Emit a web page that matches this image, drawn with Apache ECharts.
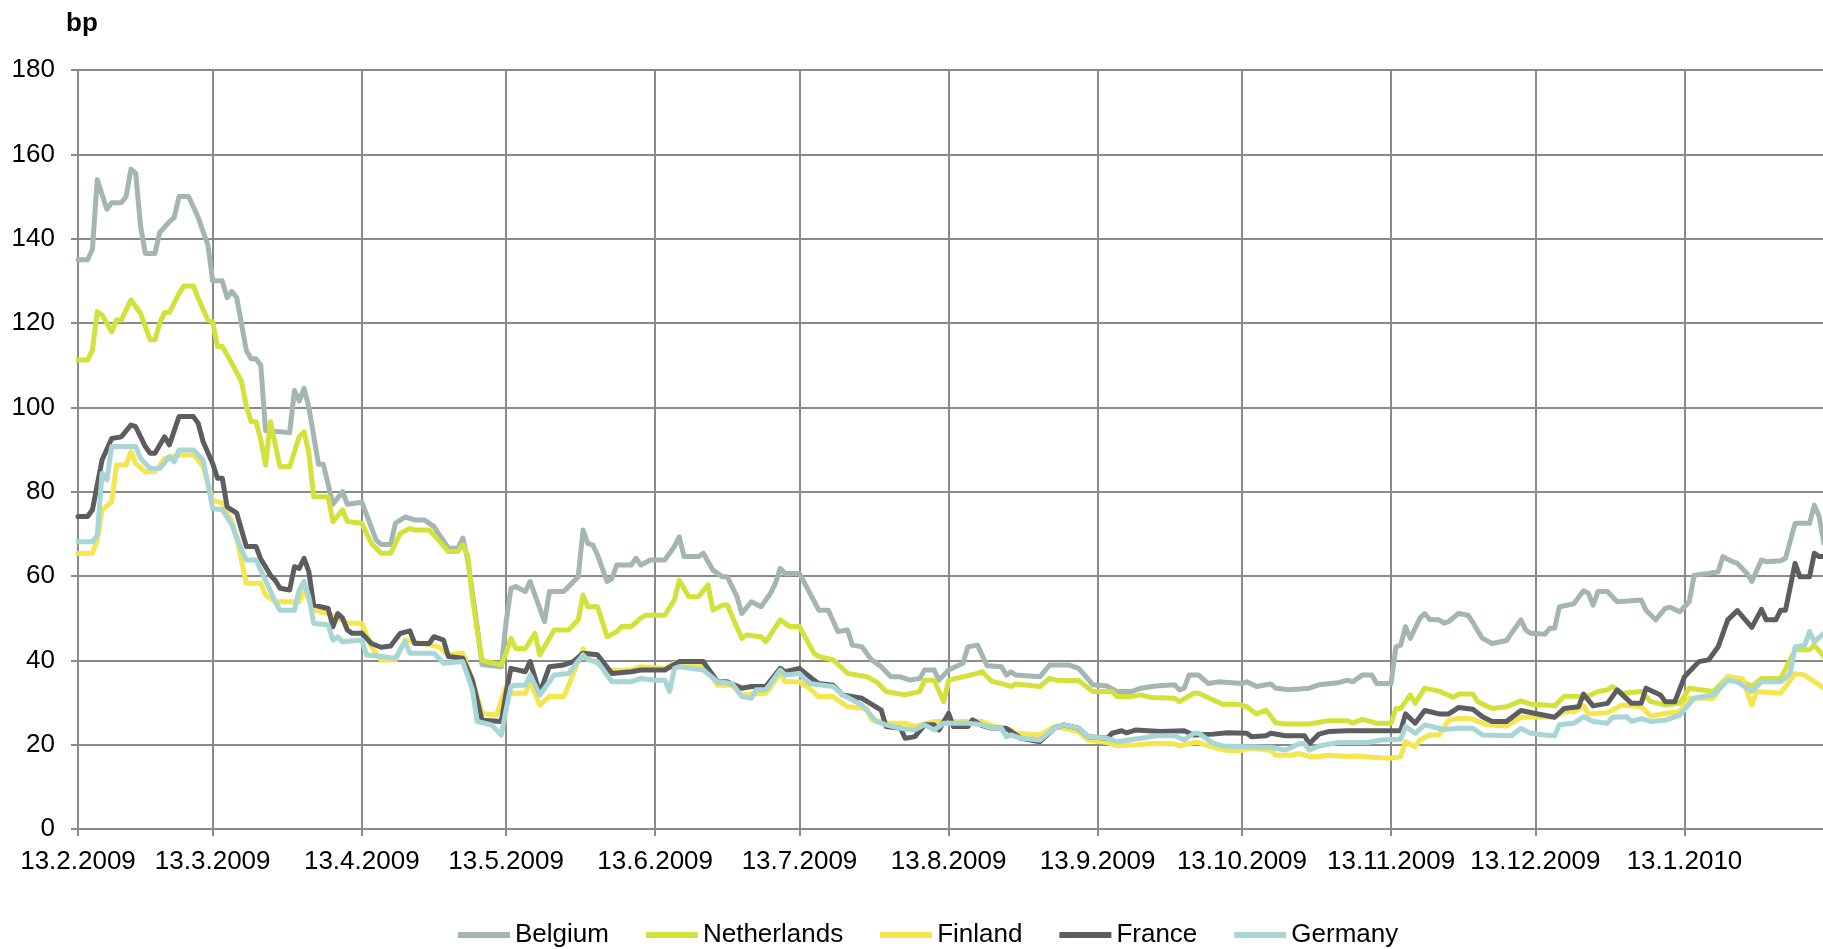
<!DOCTYPE html>
<html>
<head>
<meta charset="utf-8">
<script src="https://cdn.jsdelivr.net/npm/echarts@6/dist/echarts.min.js"></script>
<style>
html,body{margin:0;padding:0;background:#fff;}
#chart{width:1823px;height:949px;}
</style>
</head>
<body>
<div id="chart"></div>
<script>
// Day offsets are counted from 13.2.2009 (day 0); values in basis points.
const START_DATE = '2009-02-13';
const X_END_DAY = 362.8;
const xTickLabels = ['13.2.2009','13.3.2009','13.4.2009','13.5.2009','13.6.2009','13.7.2009',
  '13.8.2009','13.9.2009','13.10.2009','13.11.2009','13.12.2009','13.1.2010'];
const yMin = 0, yMax = 180, yStep = 20;
const seriesNames = ['Belgium','Netherlands','Finland','France','Germany'];
const seriesColors = ['#a3b6b1','#d3e23a','#f5e54e','#5c5d61','#a8d5d5'];

const belgium = [[0,135],[2,135],[3,137.5],[4,154],[6,147],[7,148.5],[9,148.5],[10,150],[11,156.5],[12,155.5],[13,143],[14,136.5],[16,136.5],[17,141.5],[19,144],[20,145],[21,150],[23,150],[25,145],[27,138.5],[28,130],[30,130],[31,126],[32,127.5],[33,126],[35,113.5],[36,111.5],[37,111.5],[38,110],[39,94.5],[44,94],[45,104],[46,101.5],[47,104.5],[48,100],[50,86.5],[51,86.5],[53,77],[55,80],[56,77],[59,77.5],[62,68.5],[63,67.5],[65,67.5],[66,72.5],[68,74],[70,73.3],[72,73.3],[74,71.7],[75,70],[77,66.6],[79,66.6],[80,69],[81,64],[82,56],[83,48],[84,39],[88,38.5],[89,49],[90,57],[91,57.5],[93,56.3],[94,58.7],[97,49.2],[98,56.3],[101,56.3],[104,59.8],[105,70.9],[106,67.7],[107,67.4],[108,65],[110,58.7],[111,59.4],[112,62.6],[115,62.6],[116,64.2],[117,62.6],[119,63.8],[122,63.8],[124,67],[125,69.3],[126,64.6],[129,64.6],[130,65.4],[132,61.4],[134,59.8],[135,59.8],[137,55.1],[138,51.1],[140,53.9],[142,52.7],[144,55.9],[145,58.3],[146,61.8],[147,60.6],[150,60.6],[152,56.3],[154,51.9],[156,51.9],[158,46.8],[160,47.2],[161,43.6],[163,43.2],[165,40.1],[167,38.5],[169,36.1],[171,36.1],[173,35.3],[175,35.7],[176,37.7],[178,37.7],[179,35.3],[181,37.7],[184,39.3],[185,43.2],[187,43.6],[189,38.7],[192,38.5],[193,36.5],[194,37.3],[195,36.5],[200,36.1],[202,38.9],[206,38.9],[208,38.1],[209,36.9],[211,34.2],[214,33.9],[216,32.6],[219,32.6],[221,33.4],[224,33.9],[228,34.2],[229,33],[230,33.4],[231,36.5],[233,36.5],[235,34.5],[237,34.9],[242,34.5],[243,34.9],[245,33.8],[248,34.4],[249,33.4],[252,33],[256,33.4],[258,34.2],[262,34.7],[264,35.3],[265,34.9],[267,36.5],[269,36.5],[270,34.5],[273,34.5],[274,43.2],[275,43.6],[276,48],[277,45.2],[279,50],[280,51.1],[281,49.7],[283,49.6],[284,48.8],[285,49.2],[287,51.1],[289,50.7],[290,49],[291,47],[292,45.2],[294,44],[297,44.7],[298,46.4],[300,49.6],[301,47.2],[302,46.4],[305,46.2],[306,47.6],[307,47.6],[308,52.7],[311,53.4],[313,56.5],[314,55.9],[315,53.1],[316,56.3],[318,56.3],[320,53.9],[325,54.3],[326,51.9],[328,49.6],[330,52.3],[331,52.6],[333,51.5],[335,53.9],[336,60.2],[339,60.6],[341,61],[342,64.6],[344,63.4],[345,63],[347,60.6],[348,58.7],[350,63.8],[351,63.4],[354,63.6],[355,64.2],[357,72.5],[360,72.5],[361,76.8],[362,74.1],[363,67.7]];

const netherlands = [[0,111.2],[2,111.2],[3,113.6],[4,122.7],[5,121.9],[7,117.9],[8,120.7],[9,120.7],[11,125.5],[13,122.3],[15,116],[16,116],[17,120],[18,122.5],[19,122.5],[21,127],[22,128.8],[24,128.8],[25,125.8],[27,120.7],[28,120.3],[29,114.4],[30,114.4],[32,110.4],[34,106.1],[35,100.2],[36,96.6],[37,96.6],[38,92.3],[39,86.3],[40,96.6],[42,85.9],[44,85.9],[46,93],[47,94.2],[48,89.1],[49,78.8],[52,78.8],[53,72.9],[55,75.7],[56,72.9],[59,72.5],[61,67.7],[63,65.4],[65,65.4],[67,70.1],[69,71.3],[70,70.9],[73,70.9],[74,69.7],[77,65.8],[79,65.8],[80,67.4],[81,65],[82,55],[83,47],[84,40],[88,38.9],[89,41.7],[90,45.2],[91,42.8],[93,42.8],[95,46.4],[96,41.3],[99,47.2],[102,47.2],[104,49.6],[105,55.5],[106,52.7],[108,52.7],[110,45.6],[112,46.8],[113,48],[115,48],[117,50],[118,50.7],[122,50.7],[124,54.3],[125,59],[127,55.1],[129,55.1],[131,57.9],[132,51.9],[134,53.1],[135,53.1],[138,45.2],[139,46],[142,45.6],[143,44.4],[146,49.6],[148,48],[150,48],[153,41.7],[154,40.9],[157,40.1],[160,36.9],[164,36.1],[166,34.9],[168,32.6],[170,32.2],[172,31.8],[175,32.6],[176,35.3],[178,35.3],[180,30.2],[181,35.3],[184,36.1],[187,36.9],[188,37.3],[190,35],[192,34.5],[194,33.8],[195,34.4],[200,33.8],[202,35.7],[204,35.2],[208,35.2],[211,32.6],[215,32.6],[216,31.4],[219,31.4],[221,31.8],[223,31.2],[228,31],[229,30.2],[232,32.2],[233,32.2],[236,30.6],[238,29.6],[241,29.6],[243,29],[245,27.3],[247,28.2],[249,25.2],[251,24.9],[256,24.9],[260,25.7],[264,25.7],[265,25.1],[267,26],[270,25.1],[273,25.1],[274,28.6],[275,28.6],[277,31.8],[278,29.8],[280,33.4],[283,32.7],[286,31.2],[287,32],[290,32],[291,30.2],[294,28.6],[297,29],[300,30.4],[302,29.6],[305,29.4],[307,29.2],[309,31.5],[312,31.5],[313,31],[316,32.6],[318,33],[319,33.8],[321,32.2],[325,32.6],[327,30.2],[330,29.4],[333,29.8],[335,33.4],[340,32.6],[343,36.1],[345,35.7],[348,33.8],[350,35.7],[354,35.7],[357,42.5],[360,42.5],[361,43.6],[363,40.9]];

const finland = [[0,65.4],[3,65.4],[4,68.5],[5,75.7],[7,77.6],[8,86.3],[10,86.3],[11,89.5],[12,86.7],[14,84.7],[16,84.7],[18,87.9],[21,88.7],[24,88.7],[26,85.9],[27,82],[28,78],[30,77.2],[32,72.9],[33,68.9],[35,58.3],[38,58.3],[39,55.5],[41,53.9],[46,53.9],[47,56.7],[49,51.9],[52,51.1],[56,48.8],[59,48.8],[61,43.2],[63,40.1],[66,40.1],[68,44.8],[75,43.2],[77,41.3],[80,41.7],[82,35.3],[84,27.4],[87,27],[89,33.8],[90,32.2],[93,32.2],[94,34.9],[96,29.4],[98,31.4],[101,31.4],[103,36.9],[105,42.8],[106,40.5],[108,39.3],[110,37.7],[115,37.7],[117,38.5],[122,38.1],[124,39.3],[130,38.9],[133,34.1],[136,34.1],[138,31.8],[143,32.2],[146,36.9],[147,34.9],[150,34.9],[152,33.4],[154,31.4],[157,31.4],[159,29.8],[160,29],[164,28.6],[165,25.9],[168,25.1],[172,25.1],[174,24.3],[178,25.5],[185,25.5],[188,25.5],[190,24.5],[194,23.5],[195,22.7],[200,22.3],[203,24.3],[205,23.9],[208,23.1],[210,21.1],[214,20.5],[216,19.8],[220,19.9],[223,20.3],[228,20.2],[229,19.7],[232,20.5],[233,20.5],[236,19.4],[239,18.6],[242,18.6],[243,19.1],[246,18.9],[248,18.7],[249,17.5],[252,17.5],[254,17.9],[256,17.2],[258,17.2],[260,17.5],[264,17.2],[266,17.3],[269,17],[273,16.8],[275,17.2],[276,20.7],[278,19.5],[279,21.1],[281,22.3],[283,22.3],[285,25.8],[287,26.2],[289,26.2],[290,26],[293,24.7],[297,24.4],[300,26.5],[303,26.6],[307,26.5],[309,27.8],[311,27.8],[313,29.2],[314,27.3],[318,27.6],[321,29.4],[325,29],[327,26.8],[330,27.4],[333,27.8],[335,31],[340,31],[343,36.1],[346,35.7],[348,29.4],[349,32.6],[354,32.2],[357,36.9],[359,36.5],[363,33.4]];

const france = [[0,74.1],[2,74.1],[3,75.7],[5,87.5],[7,92.6],[9,93],[11,95.8],[12,95.4],[14,90.7],[15,89.1],[16,89.1],[18,93],[19,91.1],[21,97.8],[24,97.8],[25,96.2],[26,91.9],[28,86.7],[29,83.2],[30,83.2],[31,76.4],[33,74.9],[34,70.9],[35,67],[37,67],[38,64],[39,62.2],[40,60.2],[41,59],[42,57.1],[44,56.7],[45,62.2],[46,61.8],[47,64.2],[48,61],[49,53.1],[52,52.3],[53,48],[54,51.1],[55,50],[56,47.2],[57,46.4],[59,46.4],[61,44],[63,43.1],[65,43.4],[67,46.4],[69,47],[70,44],[73,44],[74,45.6],[76,44.8],[77,40.9],[80,40.5],[82,35.3],[84,25.8],[88,25.5],[89,32.2],[90,38.1],[93,37.3],[94,39.7],[96,32.2],[98,38.5],[101,38.9],[103,39.7],[105,41.7],[108,41.3],[111,36.9],[115,37.3],[117,37.7],[122,37.7],[125,39.7],[130,39.7],[133,34.9],[135,34.9],[138,33.4],[140,33.8],[143,33.8],[146,38.1],[147,37.3],[150,38.1],[153,35.3],[154,34.5],[157,34.1],[159,31.8],[163,31],[167,28.2],[168,24.3],[171,23.9],[172,21.5],[174,21.9],[176,24.7],[178,24.7],[179,23.5],[181,27.4],[182,24.3],[185,24.3],[186,25.9],[188,24.5],[190,23.9],[193,23.9],[194,23.1],[196,21.5],[200,20.7],[203,23.9],[205,24.7],[208,23.9],[210,21.9],[214,21.5],[215,22.7],[217,23.3],[218,22.8],[220,23.5],[225,23.1],[230,23.3],[232,22.3],[236,22.5],[239,22.8],[243,22.7],[244,21.9],[247,22.1],[248,22.7],[251,22.1],[255,22.1],[256,20.2],[258,22.5],[260,23.1],[264,23.3],[271,23.3],[275,23.3],[276,27.3],[278,25.1],[280,28.1],[283,27.3],[285,27.3],[287,28.8],[290,28.4],[292,26.6],[294,25.5],[297,25.5],[300,28.1],[303,27.4],[307,26.5],[309,28.6],[312,29],[313,32],[315,29.2],[318,29.8],[320,33],[323,29.8],[325,29.8],[326,33.4],[329,31.8],[330,30.2],[332,30.2],[334,36.1],[337,39.7],[339,40.1],[341,43.2],[343,49.6],[345,51.8],[348,47.8],[350,52.1],[351,49.6],[353,49.6],[354,51.9],[355,51.9],[357,63],[358,59.8],[360,59.8],[361,65.4],[362,64.6],[363,64.6]];

const germany = [[0,68.1],[3,68.1],[4,69.7],[5,84.3],[6,82.8],[7,90.7],[12,90.7],[13,87.9],[15,85.5],[17,85.5],[19,88.3],[20,87.1],[21,89.9],[24,89.9],[26,87.5],[27,82],[28,76],[30,75.7],[32,72.1],[34,66.2],[35,63.8],[37,63.8],[39,59],[41,53.9],[42,51.9],[45,51.9],[46,56.7],[47,58.7],[48,55.1],[49,48.8],[52,48.4],[53,44.8],[54,45.6],[55,44.4],[59,44.8],[60,41.3],[66,40.5],[68,44.4],[69,41.7],[74,41.7],[76,39.3],[80,39.7],[82,33],[83,25.5],[86,24.7],[88,22.3],[89,28.2],[90,33.8],[91,34.1],[93,34.1],[94,36.5],[96,31.8],[99,36.5],[102,36.9],[105,41.3],[106,40.1],[108,39.7],[111,34.9],[115,34.9],[117,35.7],[120,35.3],[122,35.3],[123,32.6],[124,38.1],[125,38.5],[130,37.7],[133,34.9],[136,34.5],[138,31.4],[140,31],[141,33],[143,33],[146,37.7],[147,36.5],[150,36.9],[152,34.5],[157,33.8],[159,31.8],[163,29.4],[166,25.5],[168,24.7],[171,23.9],[174,23.5],[176,24.7],[178,23.5],[180,25.1],[185,25.1],[188,24.7],[190,23.9],[192,23.9],[193,21.9],[194,22.3],[196,21.5],[200,21.1],[203,23.9],[205,24.7],[208,23.9],[210,21.9],[214,21.5],[216,20.7],[221,21.5],[224,22.1],[228,22.1],[230,21.1],[232,22.7],[233,22.7],[236,20.3],[238,19.7],[243,19.5],[248,19.4],[251,18.7],[254,20.3],[255,20.2],[256,18.7],[258,19.7],[262,20.5],[268,20.5],[271,21.1],[275,21.3],[276,24.3],[278,22.7],[280,24.7],[284,23.6],[287,23.9],[290,23.9],[292,22.3],[298,22.1],[300,23.9],[302,22.7],[305,22.3],[307,22.1],[308,24.7],[311,25.1],[313,26.6],[315,25.5],[318,25.1],[319,26.5],[322,26.6],[323,25.5],[325,26.2],[327,25.5],[330,25.8],[333,27],[336,31],[340,31.8],[343,35.3],[345,34.9],[348,32.6],[350,34.9],[354,34.9],[356,36.9],[357,43.2],[359,43.6],[360,46.8],[361,44.4],[363,46.4]];

const seriesData = [belgium, netherlands, finland, france, germany];

const DAY = 86400000;
const sp = START_DATE.split('-').map(Number);
const START = Date.UTC(sp[0], sp[1] - 1, sp[2]);
function labelToDay(s) {
  const p = s.split('.').map(Number);
  return Math.round((Date.UTC(p[2], p[1] - 1, p[0]) - START) / DAY);
}
const tickDays = xTickLabels.map(labelToDay);
const labelByDay = {};
tickDays.forEach((d, i) => { labelByDay[d] = xTickLabels[i]; });
function fmt(v) {
  const k = Math.round(v);
  if (labelByDay[k] !== undefined) return labelByDay[k];
  const d = new Date(START + k * DAY);
  return d.getUTCDate() + '.' + (d.getUTCMonth() + 1) + '.' + d.getUTCFullYear();
}

const FONT = '"Liberation Sans", Arial, sans-serif';
const GRID_COLOR = '#8a8a8a';

const chart = echarts.init(document.getElementById('chart'), null, {renderer: 'canvas'});
chart.setOption({
  animation: false,
  backgroundColor: '#ffffff',
  textStyle: {fontFamily: FONT, color: '#000'},
  title: {
    text: 'bp', left: 61, top: 6,
    textStyle: {fontFamily: FONT, fontSize: 26, fontWeight: 'bold', color: '#000'}
  },
  grid: {left: 78, right: 0, top: 70, bottom: 120, containLabel: false},
  legend: {
    left: 453, top: 917,
    itemWidth: 52, itemHeight: 6, itemGap: 37,
    icon: 'rect',
    textStyle: {fontFamily: FONT, fontSize: 26, color: '#000'},
    data: seriesNames
  },
  xAxis: {
    type: 'value',
    min: 0,
    max: X_END_DAY,
    axisLine: {show: true, lineStyle: {color: GRID_COLOR, width: 2}},
    axisTick: {show: true, length: 7, inside: false, customValues: tickDays,
      lineStyle: {color: GRID_COLOR, width: 2}},
    axisLabel: {show: true, customValues: tickDays, margin: 20, fontSize: 26,
      fontFamily: FONT, color: '#000', formatter: fmt},
    splitLine: {show: true, lineStyle: {color: GRID_COLOR, width: 2}}
  },
  yAxis: {
    type: 'value', min: yMin, max: yMax, interval: yStep,
    axisLine: {show: true, lineStyle: {color: GRID_COLOR, width: 2}},
    axisTick: {show: true, length: 7, inside: false, lineStyle: {color: GRID_COLOR, width: 2}},
    axisLabel: {margin: 23, fontSize: 26, fontFamily: FONT, color: '#000'},
    splitLine: {show: true, lineStyle: {color: GRID_COLOR, width: 2}}
  },
  series: seriesNames.map((name, i) => ({
    name: name,
    type: 'line',
    showSymbol: false,
    symbol: 'none',
    color: seriesColors[i],
    lineStyle: {color: seriesColors[i], width: 5, join: 'round', cap: 'round'},
    data: seriesData[i]
  }))
});
</script>
</body>
</html>
